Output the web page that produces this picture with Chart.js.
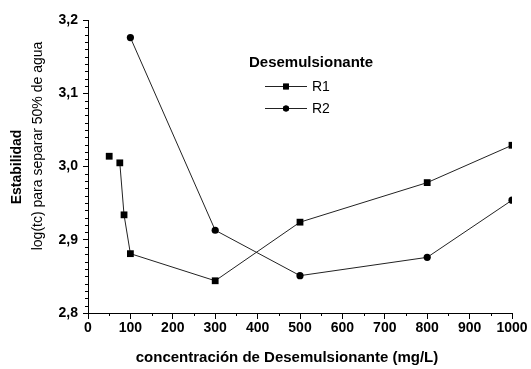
<!DOCTYPE html>
<html>
<head>
<meta charset="utf-8">
<script src="https://cdn.jsdelivr.net/npm/chart.js@4/dist/chart.umd.min.js"></script>
<style>
  html, body { margin: 0; padding: 0; background: #fff; }
  #wrap { width: 531px; height: 369px; position: relative; }
</style>
</head>
<body>
<div id="wrap"><canvas id="c"></canvas></div>
<script>
// ---- data ----
const r1X = [50, 75, 85, 100, 300, 500, 800, 1000];
const r1Y = [3.014, 3.005, 2.934, 2.881, 2.844, 2.924, 2.978, 3.029];
const r2X = [100, 300, 500, 800, 1000];
const r2Y = [3.176, 2.913, 2.851, 2.876, 2.954];
const seriesLabels = ['R1', 'R2'];
const legendTitle = 'Desemulsionante';
const xTitle = 'concentración de Desemulsionante (mg/L)';
const yTitle1 = 'Estabilidad';
const yTitle2 = 'log(tc) para separar 50% de agua';
const xMin = 0, xMax = 1000, xStep = 100, xMinorStep = 50;
const yMin = 2.8, yMax = 3.2, yStep = 0.1, yMinorStep = 0.01;

const toPts = (xs, ys) => xs.map((x, i) => ({ x: x, y: ys[i] }));
const FONT = '"Liberation Sans", Arial, sans-serif';

const minorTicks = {
  id: 'minorTicks',
  afterDraw(chart) {
    const ctx = chart.ctx;
    const xs = chart.scales.x, ys = chart.scales.y;
    ctx.save();
    ctx.strokeStyle = '#000';
    ctx.lineWidth = 1;
    ctx.beginPath();
    for (let v = xMin + xMinorStep; v < xMax; v += xMinorStep) {
      if (Math.abs(v / xStep - Math.round(v / xStep)) < 1e-6) continue;
      const px = Math.round(xs.getPixelForValue(v)) + 0.5;
      ctx.moveTo(px, ys.bottom);
      ctx.lineTo(px, ys.bottom + 3);
    }
    const n = Math.round((yMax - yMin) / yMinorStep);
    for (let i = 1; i < n; i++) {
      if (i % Math.round(yStep / yMinorStep) === 0) continue;
      const v = yMin + i * yMinorStep;
      const py = Math.round(ys.getPixelForValue(v)) + 0.5;
      ctx.moveTo(xs.left - 3, py);
      ctx.lineTo(xs.left, py);
    }
    ctx.stroke();
    ctx.restore();
  }
};

const textBits = {
  id: 'textBits',
  afterDraw(chart) {
    const ctx = chart.ctx;
    ctx.save();
    ctx.fillStyle = '#000';
    ctx.textAlign = 'center';
    ctx.textBaseline = 'middle';
    // x axis title
    ctx.font = 'bold 15px ' + FONT;
    ctx.fillText(xTitle, 287, 358);
    // y axis titles (rotated)
    ctx.save();
    ctx.translate(17, 167);
    ctx.rotate(-Math.PI / 2);
    ctx.font = 'bold 14px ' + FONT;
    ctx.fillText(yTitle1, 0, 0);
    ctx.restore();
    ctx.save();
    ctx.translate(38, 146);
    ctx.rotate(-Math.PI / 2);
    ctx.font = '14px ' + FONT;
    ctx.fillText(yTitle2, 0, 0);
    ctx.restore();
    // legend
    ctx.textAlign = 'left';
    ctx.font = 'bold 15px ' + FONT;
    ctx.fillText(legendTitle, 249, 63);
    const rows = [86, 108];
    chart.data.datasets.forEach((ds, i) => {
      const y = rows[i];
      ctx.strokeStyle = ds.borderColor;
      ctx.lineWidth = 1;
      ctx.beginPath();
      ctx.moveTo(265, y + 0.5);
      ctx.lineTo(307, y + 0.5);
      ctx.stroke();
      Chart.helpers.drawPoint(ctx, {
        pointStyle: ds.pointStyle,
        radius: ds.pointRadius * 0.85,
        borderWidth: 0
      }, 286, y + 0.5);
      ctx.fillStyle = ds.pointBackgroundColor;
      ctx.fill();
      ctx.fillStyle = '#000';
      ctx.font = '14px ' + FONT;
      ctx.fillText(ds.label, 312, y + 1);
    });
    ctx.restore();
  }
};

new Chart(document.getElementById('c'), {
  type: 'scatter',
  data: {
    datasets: [
      {
        label: seriesLabels[0],
        data: toPts(r1X, r1Y),
        showLine: true,
        borderColor: '#222',
        borderWidth: 1,
        pointStyle: 'rect',
        pointRadius: 4.8,
        pointBackgroundColor: '#000',
        pointBorderColor: '#000',
        pointBorderWidth: 0,
        segment: {
          borderColor: c => c.p0DataIndex === 0 ? 'rgba(0,0,0,0)' : '#222'
        }
      },
      {
        label: seriesLabels[1],
        data: toPts(r2X, r2Y),
        showLine: true,
        borderColor: '#222',
        borderWidth: 1,
        pointStyle: 'circle',
        pointRadius: 3.6,
        pointBackgroundColor: '#000',
        pointBorderColor: '#000',
        pointBorderWidth: 0
      }
    ]
  },
  options: {
    responsive: true,
    maintainAspectRatio: false,
    animation: false,
    devicePixelRatio: 1,
    layout: { padding: { top: 20, right: 19, left: 0, bottom: 0 } },
    plugins: {
      legend: { display: false },
      tooltip: { enabled: false }
    },
    scales: {
      x: {
        type: 'linear',
        min: xMin, max: xMax,
        afterFit: s => { s.height = 56; },
        border: { display: true, color: '#000', width: 1 },
        grid: { display: true, drawOnChartArea: false, drawTicks: true, tickLength: 6, color: '#000' },
        ticks: {
          stepSize: xStep,
          color: '#000',
          padding: 1,
          maxRotation: 0,
          font: { family: FONT, size: 14, weight: 'bold' },
          callback: v => String(v)
        },
        title: { display: false }
      },
      y: {
        type: 'linear',
        min: yMin, max: yMax,
        afterFit: s => { s.width = 88; },
        border: { display: true, color: '#000', width: 1 },
        grid: { display: true, drawOnChartArea: false, drawTicks: true, tickLength: 5, color: '#000' },
        ticks: {
          stepSize: yStep,
          color: '#000',
          padding: 5,
          font: { family: FONT, size: 14, weight: 'bold' },
          callback: v => Number(v).toFixed(1).replace('.', ',')
        }
      }
    }
  },
  plugins: [minorTicks, textBits]
});
</script>
</body>
</html>
